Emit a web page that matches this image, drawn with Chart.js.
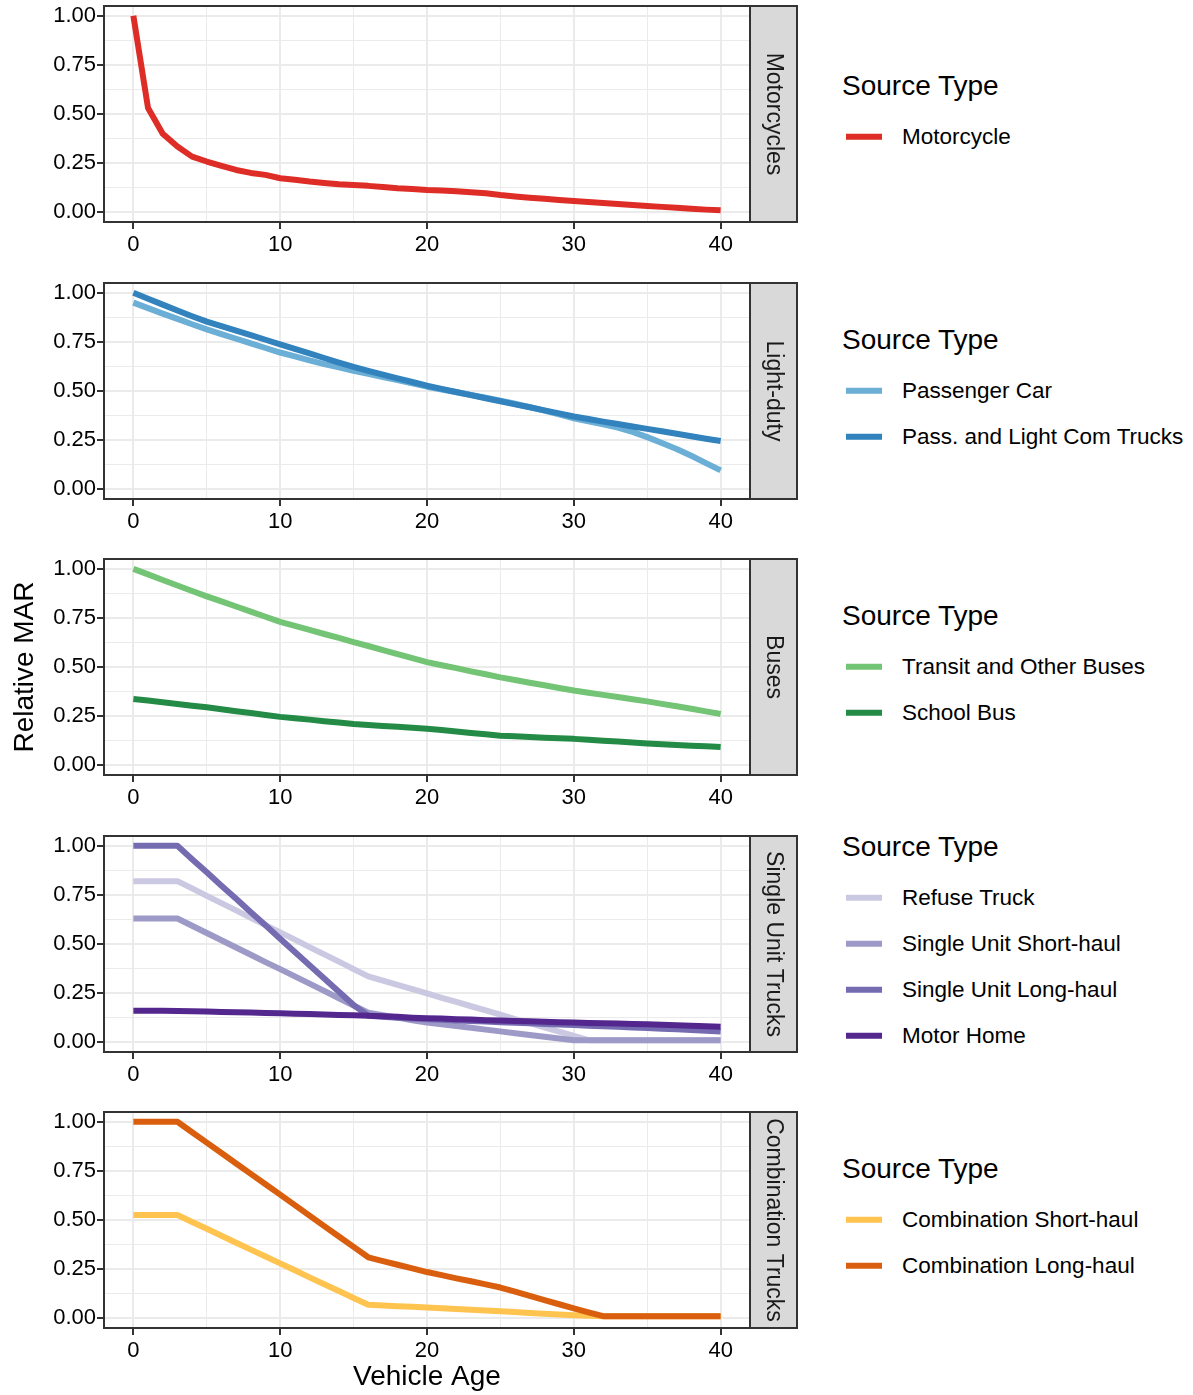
<!DOCTYPE html>
<html>
<head>
<meta charset="utf-8">
<script src="https://cdn.jsdelivr.net/npm/chart.js@4.4.1/dist/chart.umd.min.js"></script>
<style>
	body {
		margin: 0;
		background: #fff;
		width: 1193px;
		height: 1395px;
		position: relative;
		overflow: hidden;
		font-family: "Liberation Sans", Arial, sans-serif;
		color: #000;
	}
	.panel { position: absolute; left: 0; }
	.lg-title {
		position: absolute;
		left: 842px;
		font-size: 28px;
		line-height: 1;
		transform: translateY(-50%);
		white-space: nowrap;
	}
	.lg-item {
		position: absolute;
		left: 846px;
		transform: translateY(-50%);
		display: flex;
		align-items: center;
		font-size: 22.5px;
		line-height: 1;
		white-space: nowrap;
	}
	.lg-key { width: 36px; height: 6px; margin-right: 20px; }
</style>
</head>
<body>
<script>
// vehicle age (x categories)
const ages = [0, 1, 2, 3, 4, 5, 6, 7, 8, 9, 10, 11, 12, 13, 14, 15, 16, 17, 18, 19, 20,
	21, 22, 23, 24, 25, 26, 27, 28, 29, 30, 31, 32, 33, 34, 35, 36, 37, 38, 39, 40];

const xTicks = [0, 5, 10, 15, 20, 25, 30, 35, 40];
const yTicks = [0, 0.125, 0.25, 0.375, 0.5, 0.625, 0.75, 0.875, 1];

// Relative MAR
const motorcycle = [1.00, 0.53, 0.40, 0.334, 0.283, 0.258, 0.236, 0.215, 0.200, 0.190, 0.173,
	0.165, 0.156, 0.149, 0.142, 0.138, 0.134, 0.128, 0.122, 0.118, 0.113,
	0.110, 0.106, 0.101, 0.096, 0.087, 0.080, 0.074, 0.068, 0.062, 0.057,
	0.052, 0.047, 0.042, 0.037, 0.032, 0.027, 0.022, 0.017, 0.013, 0.010];

const passengerCar = [0.950, 0.922, 0.894, 0.867, 0.840, 0.814, 0.790, 0.766, 0.742, 0.719, 0.696,
	0.676, 0.656, 0.637, 0.620, 0.603, 0.587, 0.571, 0.556, 0.539, 0.522,
	0.508, 0.494, 0.480, 0.466, 0.451, 0.435, 0.418, 0.400, 0.381, 0.361,
	0.345, 0.330, 0.314, 0.292, 0.265, 0.235, 0.205, 0.170, 0.133, 0.096];

const lightTrucks = [1.000, 0.970, 0.940, 0.910, 0.881, 0.853, 0.830, 0.807, 0.784, 0.761, 0.738,
	0.715, 0.692, 0.668, 0.645, 0.623, 0.603, 0.583, 0.564, 0.546, 0.527,
	0.511, 0.495, 0.479, 0.463, 0.448, 0.432, 0.417, 0.401, 0.386, 0.370,
	0.357, 0.344, 0.332, 0.319, 0.307, 0.295, 0.282, 0.270, 0.257, 0.245];

const transitBus = [1.000, 0.972, 0.943, 0.915, 0.887, 0.860, 0.834, 0.808, 0.782, 0.756, 0.730,
	0.709, 0.689, 0.668, 0.648, 0.627, 0.607, 0.586, 0.566, 0.545, 0.525,
	0.509, 0.494, 0.478, 0.463, 0.447, 0.434, 0.420, 0.407, 0.393, 0.380,
	0.369, 0.358, 0.347, 0.336, 0.325, 0.312, 0.300, 0.287, 0.274, 0.261];

const schoolBus = [0.337, 0.329, 0.320, 0.312, 0.303, 0.295, 0.285, 0.275, 0.266, 0.256, 0.246,
	0.239, 0.232, 0.224, 0.217, 0.210, 0.205, 0.200, 0.196, 0.191, 0.186,
	0.179, 0.172, 0.164, 0.157, 0.150, 0.147, 0.144, 0.140, 0.137, 0.134,
	0.129, 0.124, 0.120, 0.115, 0.110, 0.106, 0.103, 0.099, 0.096, 0.092];

const refuseTruck = [0.82, 0.82, 0.82, 0.82, 0.783, 0.745, 0.708, 0.671, 0.633, 0.596, 0.559,
	0.522, 0.484, 0.447, 0.410, 0.372, 0.335, 0.313, 0.292, 0.270, 0.248,
	0.226, 0.205, 0.183, 0.162, 0.140, 0.118, 0.097, 0.075, 0.054, 0.032,
	0.010, 0.010, 0.010, 0.010, 0.010, 0.010, 0.010, 0.010, 0.010, 0.010];

const suShortHaul = [0.63, 0.63, 0.63, 0.63, 0.593, 0.556, 0.519, 0.482, 0.445, 0.408, 0.372,
	0.335, 0.298, 0.261, 0.224, 0.187, 0.150, 0.137, 0.125, 0.112, 0.100,
	0.091, 0.082, 0.073, 0.064, 0.055, 0.046, 0.037, 0.028, 0.019, 0.010,
	0.010, 0.010, 0.010, 0.010, 0.010, 0.010, 0.010, 0.010, 0.010, 0.010];

const suLongHaul = [1.00, 1.00, 1.00, 1.00, 0.932, 0.865, 0.797, 0.730, 0.662, 0.595, 0.527,
	0.459, 0.392, 0.324, 0.257, 0.189, 0.135, 0.130, 0.125, 0.121, 0.117,
	0.114, 0.111, 0.108, 0.105, 0.102, 0.099, 0.096, 0.093, 0.090, 0.087,
	0.084, 0.081, 0.078, 0.075, 0.072, 0.069, 0.066, 0.062, 0.058, 0.054];

const motorHome = [0.160, 0.160, 0.160, 0.159, 0.158, 0.156, 0.154, 0.152, 0.151, 0.149, 0.147,
	0.145, 0.143, 0.141, 0.139, 0.137, 0.135, 0.132, 0.129, 0.125, 0.122,
	0.120, 0.117, 0.115, 0.112, 0.110, 0.108, 0.106, 0.104, 0.102, 0.100,
	0.098, 0.096, 0.095, 0.093, 0.091, 0.089, 0.086, 0.084, 0.081, 0.079];

const combShortHaul = [0.525, 0.525, 0.525, 0.525, 0.490, 0.455, 0.420, 0.384, 0.349, 0.314, 0.279,
	0.244, 0.208, 0.173, 0.138, 0.103, 0.068, 0.065, 0.061, 0.058, 0.055,
	0.051, 0.047, 0.043, 0.039, 0.035, 0.031, 0.027, 0.023, 0.019, 0.015,
	0.012, 0.010, 0.010, 0.010, 0.010, 0.010, 0.010, 0.010, 0.010, 0.010];

const combLongHaul = [1.00, 1.00, 1.00, 1.00, 0.947, 0.894, 0.841, 0.788, 0.735, 0.682, 0.629,
	0.576, 0.522, 0.469, 0.416, 0.363, 0.310, 0.291, 0.272, 0.254, 0.235,
	0.219, 0.203, 0.188, 0.172, 0.156, 0.135, 0.114, 0.092, 0.071, 0.050,
	0.030, 0.010, 0.010, 0.010, 0.010, 0.010, 0.010, 0.010, 0.010, 0.010];

const panels = [
	{ strip: 'Motorcycles', series: [
		{ label: 'Motorcycle', data: motorcycle, color: '#de2d26' },
	] },
	{ strip: 'Light-duty', series: [
		{ label: 'Passenger Car', data: passengerCar, color: '#6baed6' },
		{ label: 'Pass. and Light Com Trucks', data: lightTrucks, color: '#3182bd' },
	] },
	{ strip: 'Buses', yTitle: 'Relative MAR', series: [
		{ label: 'Transit and Other Buses', data: transitBus, color: '#74c476' },
		{ label: 'School Bus', data: schoolBus, color: '#238b45' },
	] },
	{ strip: 'Single Unit Trucks', series: [
		{ label: 'Refuse Truck', data: refuseTruck, color: '#cbc9e2' },
		{ label: 'Single Unit Short-haul', data: suShortHaul, color: '#9e9ac8' },
		{ label: 'Single Unit Long-haul', data: suLongHaul, color: '#756bb1' },
		{ label: 'Motor Home', data: motorHome, color: '#54278f' },
	] },
	{ strip: 'Combination Trucks', xTitle: 'Vehicle Age', series: [
		{ label: 'Combination Short-haul', data: combShortHaul, color: '#fec44f' },
		{ label: 'Combination Long-haul', data: combLongHaul, color: '#d95f0e' },
	] },
];

const FONT = '"Liberation Sans", Arial, sans-serif';
Chart.defaults.font.family = FONT;

const panelTops = [6, 283, 559, 836, 1112];
const PANEL_H = 216;
const STRIP_W = 47;

const isMajorY = v => Math.abs(v * 4 - Math.round(v * 4)) < 1e-6;
const isMajorX = v => v % 10 === 0;

// panel border + facet strip on the right
const stripPlugin = {
	id: 'strip',
	afterDraw(chart, args, opts) {
		const { ctx, chartArea: a } = chart;
		const h = a.bottom - a.top;
		ctx.save();
		ctx.fillStyle = '#D9D9D9';
		ctx.fillRect(a.right, a.top, STRIP_W, h);
		ctx.strokeStyle = '#333333';
		ctx.lineWidth = 2;
		ctx.strokeRect(a.right, a.top, STRIP_W, h);
		ctx.strokeRect(a.left, a.top, a.right - a.left, h);
		ctx.translate(a.right + STRIP_W / 2, a.top + h / 2);
		ctx.rotate(Math.PI / 2);
		ctx.fillStyle = '#1A1A1A';
		ctx.font = '23px ' + FONT;
		ctx.textAlign = 'center';
		ctx.textBaseline = 'middle';
		ctx.fillText(opts.text, 0, 0);
		ctx.restore();
	},
};

const makePanel = (p, i) => {
	const last = i === panels.length - 1;
	const top = panelTops[i] - 6;
	const h = last ? 1395 - top : 276;

	const wrap = document.createElement('div');
	wrap.className = 'panel';
	wrap.style.top = top + 'px';
	const cv = document.createElement('canvas');
	cv.width = 800;
	cv.height = h;
	cv.style.width = '800px';
	cv.style.height = h + 'px';
	wrap.appendChild(cv);
	document.body.appendChild(wrap);

	const n = p.series.length;
	new Chart(cv, {
		type: 'line',
		plugins: [stripPlugin],
		data: {
			labels: ages,
			datasets: p.series.map((s, k) => ({
				label: s.label,
				data: s.data,
				borderColor: s.color,
				backgroundColor: s.color,
				order: n - k, // later series on top, like ggplot
			})),
		},
		options: {
			responsive: false,
			animation: false,
			layout: { padding: { top: 6, right: 800 - 750, left: 0, bottom: 0 } },
			elements: {
				line: { borderWidth: 6, tension: 0, fill: false, borderCapStyle: 'butt', borderJoinStyle: 'round' },
				point: { radius: 0, hoverRadius: 0 },
			},
			plugins: {
				legend: { display: false },
				tooltip: { enabled: false },
				strip: { text: p.strip },
			},
			scales: {
				x: {
					type: 'linear',
					min: -2,
					max: 42,
					afterBuildTicks: s => { s.ticks = xTicks.map(v => ({ value: v })); },
					afterFit: s => {
						s.height = h - 6 - PANEL_H;
						s.paddingLeft = 0;
						s.paddingRight = 0;
					},
					border: { display: false },
					grid: {
						color: '#EBEBEB',
						lineWidth: c => (isMajorX(c.tick.value) ? 2 : 1),
						tickLength: 7,
						tickWidth: 2,
						tickColor: c => (isMajorX(c.tick.value) ? '#333333' : 'rgba(0,0,0,0)'),
					},
					ticks: {
						autoSkip: false,
						maxRotation: 0,
						padding: 3,
						color: '#000',
						font: { size: 22 },
						callback: v => (isMajorX(v) ? String(v) : ''),
					},
					title: p.xTitle
						? { display: true, text: p.xTitle, color: '#000', font: { size: 28, lineHeight: 1 }, padding: { top: 0, bottom: 4 } }
						: { display: false },
				},
				y: {
					min: -0.05,
					max: 1.05,
					afterBuildTicks: s => { s.ticks = yTicks.map(v => ({ value: v })); },
					afterFit: s => {
						s.width = 104;
						s.paddingTop = 0;
						s.paddingBottom = 0;
					},
					border: { display: false },
					grid: {
						color: '#EBEBEB',
						lineWidth: c => (isMajorY(c.tick.value) ? 2 : 1),
						tickLength: 7,
						tickWidth: 2,
						tickColor: c => (isMajorY(c.tick.value) ? '#333333' : 'rgba(0,0,0,0)'),
					},
					ticks: {
						autoSkip: false,
						padding: 1,
						color: '#000',
						font: { size: 22 },
						callback: v => (isMajorY(v) ? v.toFixed(2) : ''),
					},
					title: p.yTitle
						? { display: true, text: p.yTitle, color: '#000', font: { size: 28, lineHeight: 1 }, padding: { top: 11, bottom: 0 } }
						: { display: false },
				},
			},
		},
	});

	// ggplot-style legend next to the panel
	const c = panelTops[i] + PANEL_H / 2;
	const titleY = c - 2.5 - (51 + (n - 1) * 46) / 2;
	const t = document.createElement('div');
	t.className = 'lg-title';
	t.style.top = titleY + 'px';
	t.textContent = 'Source Type';
	document.body.appendChild(t);
	p.series.forEach((s, k) => {
		const it = document.createElement('div');
		it.className = 'lg-item';
		it.style.top = (titleY + 51 + k * 46) + 'px';
		const key = document.createElement('span');
		key.className = 'lg-key';
		key.style.background = s.color;
		const lab = document.createElement('span');
		lab.textContent = s.label;
		it.appendChild(key);
		it.appendChild(lab);
		document.body.appendChild(it);
	});
};

panels.forEach(makePanel);
</script>
</body>
</html>
